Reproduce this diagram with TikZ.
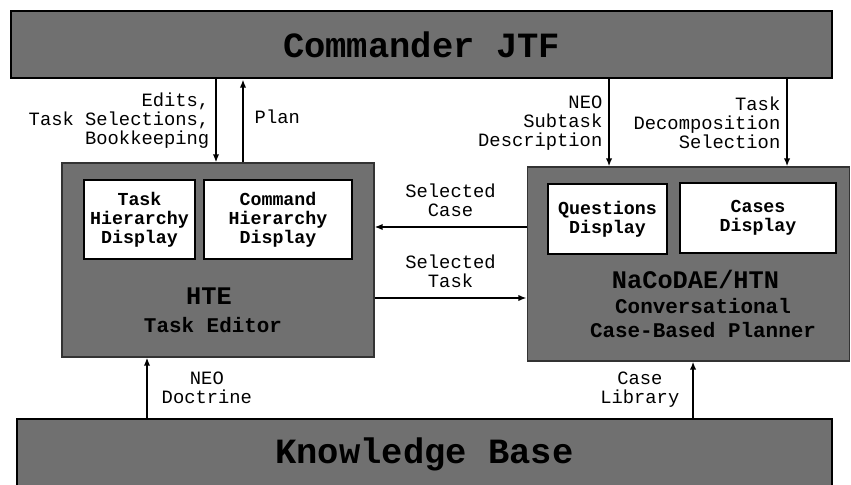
\documentclass[tikz,border=0pt]{standalone}
\usepackage{fontspec}
\setmonofont{Liberation Mono}
\usepackage{tikz}
\usetikzlibrary{arrows.meta,positioning}

\begin{document}
\begin{tikzpicture}[
  >={Latex[length=4.6pt,width=3.6pt]},
  every node/.style={font=\ttfamily\fontsize{10.7}{10.8}\selectfont},
  bigbar/.style={draw=black, line width=1.7pt, fill=black!56, inner sep=0pt,
    font=\ttfamily\bfseries\fontsize{20.2}{22}\selectfont},
  module/.style={draw=black!80, line width=0.6pt, fill=black!56, inner sep=0pt},
  panel/.style={draw=black, line width=0.7pt, fill=white, align=center, inner sep=0pt,
    font=\ttfamily\bfseries\fontsize{10.4}{10.8}\selectfont},
  modtitle/.style={font=\ttfamily\bfseries\fontsize{14.4}{15}\selectfont},
  modsub/.style={align=center, font=\ttfamily\bfseries\fontsize{11.9}{13.2}\selectfont},
  flow/.style={->, line width=1pt},
]
\clip (0,0) rectangle (17.02,-9.7);
% outer bars
\node[bigbar, minimum width=16.42cm, minimum height=1.34cm] (cmdr) at (8.43,-0.89) {Commander JTF};
\node[bigbar, minimum width=16.30cm, minimum height=1.42cm] (kb) at (8.49,-9.09) {Knowledge Base};
% the two modules
\node[module, minimum width=6.24cm, minimum height=3.88cm] (hte) at (4.36,-5.20) {};
\node[module, minimum width=6.44cm, minimum height=3.88cm, right=3.04cm of hte, yshift=-0.08cm] (ncp) {};
\node[panel, minimum width=2.22cm, minimum height=1.58cm] (thd) at (2.79,-4.39) {Task\\Hierarchy\\Display};
\node[panel, minimum width=2.96cm, minimum height=1.58cm] (chd) at (5.56,-4.39) {Command\\Hierarchy\\Display};
\node[panel, minimum width=2.38cm, minimum height=1.40cm] (qd) at (12.15,-4.38) {Questions\\Display};
\node[panel, minimum width=3.12cm, minimum height=1.40cm] (cd) at (15.16,-4.36) {Cases\\Display};
\node[modtitle] (htetitle) at (4.18,-5.92) {HTE};
\node[modsub] (htesub) at (4.26,-6.50) {Task Editor};
\node[modtitle] (ncptitle) at (13.91,-5.58) {NaCoDAE/HTN};
\node[modsub] (ncpsub) at (14.06,-6.36) {Conversational\\Case-Based Planner};
% connectors
\draw[flow] ([xshift=-0.04cm]hte.north |- cmdr.south) -- node[midway, left, align=right] {Edits,\\Task Selections,\\Bookkeeping} ([xshift=-0.04cm]hte.north);
\draw[flow] ([xshift=0.50cm]hte.north) -- node[midway, right, xshift=0.1cm, yshift=0.08cm] {Plan} ([xshift=0.50cm]hte.north |- cmdr.south);
\draw[flow] ([xshift=-1.58cm]ncp.north |- cmdr.south) -- node[midway, left, align=right] {NEO\\Subtask\\Description} ([xshift=-1.58cm]ncp.north);
\draw[flow] ([xshift=1.98cm]ncp.north |- cmdr.south) -- node[midway, left, align=right] {Task\\Decomposition\\Selection} ([xshift=1.98cm]ncp.north);
\draw[flow] ([yshift=0.66cm]hte.east -| ncp.west) -- node[midway, above, align=center, yshift=0.08cm] {Selected\\Case} ([yshift=0.66cm]hte.east);
\draw[flow] ([yshift=-0.76cm]hte.east) -- node[midway, above, align=center, yshift=0.08cm] {Selected\\Task} ([yshift=-0.76cm]hte.east -| ncp.west);
\draw[flow] ([xshift=-1.42cm]hte.south |- kb.north) -- node[midway, right, align=center, xshift=0.16cm] {NEO\\Doctrine} ([xshift=-1.42cm]hte.south);
\draw[flow] ([xshift=0.10cm]ncp.south |- kb.north) -- node[midway, left, align=center, xshift=-0.14cm] {Case\\Library} ([xshift=0.10cm]ncp.south);
\end{tikzpicture}
\end{document}
